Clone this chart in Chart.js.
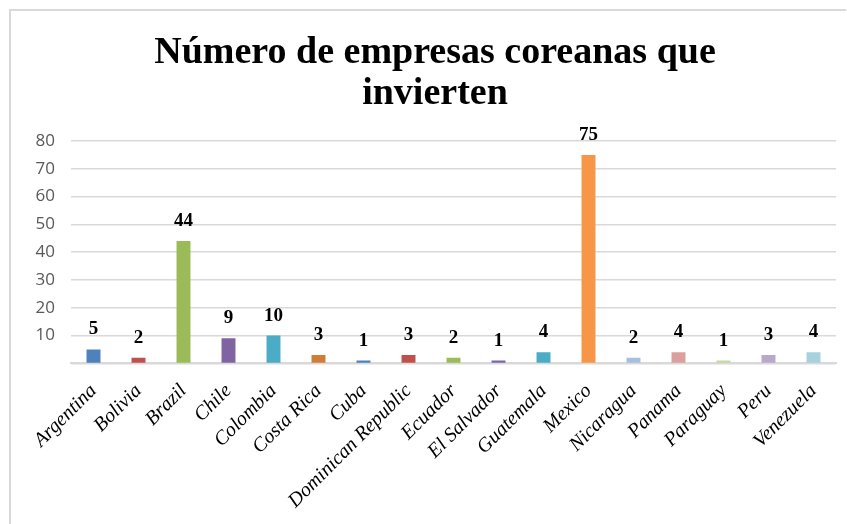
<!DOCTYPE html>
<html>
<head>
<meta charset="utf-8">
<script src="https://cdn.jsdelivr.net/npm/chart.js@4"></script>
<style>
  html, body { margin: 0; padding: 0; background: #fff; }
  #wrap { width: 847px; height: 524px; position: relative; }
</style>
</head>
<body>
<div id="wrap"><canvas id="empresasChart" width="847" height="524"></canvas></div>
<script>
// data
const countries = ['Argentina', 'Bolivia', 'Brazil', 'Chile', 'Colombia', 'Costa Rica', 'Cuba',
    'Dominican Republic', 'Ecuador', 'El Salvador', 'Guatemala', 'Mexico', 'Nicaragua',
    'Panama', 'Paraguay', 'Peru', 'Venezuela'];
const empresas = [5, 2, 44, 9, 10, 3, 1, 3, 2, 1, 4, 75, 2, 4, 1, 3, 4];
const yTicks = [0, 10, 20, 30, 40, 50, 60, 70, 80];
const titleLines = ['Número de empresas coreanas que', 'invierten'];

// one colour per bar (excel style "vary colors by point")
const barColors = ['#4F81BD', '#C0504D', '#9BBB59', '#8064A2', '#4BACC6', '#D07D3A', '#4F81BD',
    '#C0504D', '#9BBB59', '#8064A2', '#4BACC6', '#F79646', '#A8BEE0', '#DBA09E', '#C6D9A3',
    '#B8A9CC', '#A6D2DE'];

// draws the numbers on top of each bar
const valueLabels = {
    id: 'valueLabels',
    afterDatasetsDraw(chart) {
        const ctx = chart.ctx;
        const meta = chart.getDatasetMeta(0);
        ctx.save();
        ctx.font = 'bold 19px "Liberation Serif"';
        ctx.fillStyle = '#000';
        ctx.textAlign = 'center';
        ctx.textBaseline = 'alphabetic';
        meta.data.forEach((bar, i) => {
            ctx.fillText(String(chart.data.datasets[0].data[i]), bar.x, bar.y - 15);
        });
        ctx.restore();
    }
};

// frame lines + title (title is a bit right of the canvas centre in the source)
const frameAndTitle = {
    id: 'frameAndTitle',
    beforeDraw(chart) {
        const ctx = chart.ctx;
        ctx.save();
        ctx.strokeStyle = '#d9d9d9';
        ctx.lineWidth = 2;
        ctx.beginPath();
        ctx.moveTo(10, chart.height);
        ctx.lineTo(10, 10);
        ctx.lineTo(846, 10);
        ctx.stroke();

        ctx.font = 'bold 38px "Liberation Serif"';
        ctx.fillStyle = '#000';
        ctx.textAlign = 'center';
        ctx.textBaseline = 'alphabetic';
        titleLines.forEach((line, i) => {
            ctx.fillText(line, 435, 63 + i * 41);
        });
        ctx.restore();
    }
};

var ctx = document.getElementById('empresasChart').getContext('2d');
var myChart = new Chart(ctx, {
    type: 'bar',
    data: {
        labels: countries,
        datasets: [{
            data: empresas,
            backgroundColor: barColors,
            barPercentage: 0.62,
            categoryPercentage: 0.5
        }]
    },
    plugins: [frameAndTitle, valueLabels],
    options: {
        responsive: false,
        animation: false,
        layout: { padding: { left: 10, right: 11, top: 141, bottom: 3 } },
        plugins: {
            legend: { display: false },
            tooltip: { enabled: false },
            title: { display: false }
        },
        scales: {
            y: {
                min: 0,
                max: 80,
                afterBuildTicks(axis) { axis.ticks = yTicks.map(v => ({ value: v })); },
                afterFit(axis) { axis.width = 61; },
                border: { display: false },
                grid: { color: '#d9d9d9', lineWidth: 1.5, drawTicks: false },
                ticks: {
                    padding: 16,
                    color: '#595959',
                    font: { family: '"Open Sans"', size: 17 },
                    callback: v => v === 0 ? '' : v
                }
            },
            x: {
                grid: { display: false },
                border: { display: true, color: '#d9d9d9', width: 2 },
                ticks: {
                    minRotation: 45,
                    maxRotation: 45,
                    autoSkip: false,
                    padding: 8,
                    color: '#000',
                    font: { family: '"Liberation Serif"', size: 20, style: 'italic' }
                }
            }
        }
    }
});
</script>
</body>
</html>
